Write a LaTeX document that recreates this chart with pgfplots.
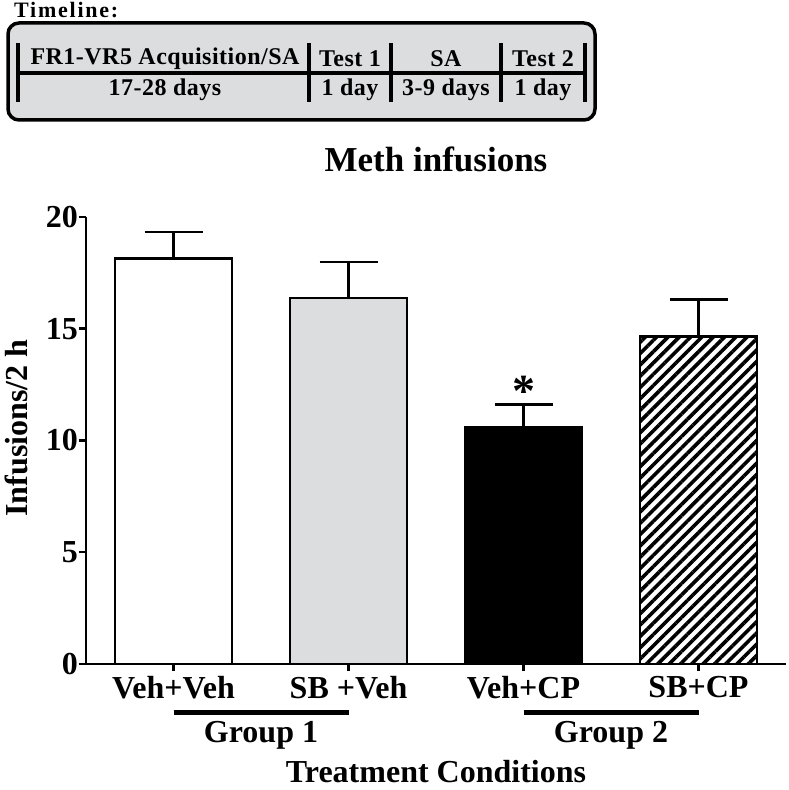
\documentclass[border=0pt]{standalone}
\usepackage{fontspec}
\setmainfont{Liberation Serif}
\newfontfamily\spacedfont[LetterSpace=8]{Liberation Serif}
\newfontfamily\boxfont[LetterSpace=2]{Liberation Serif}
\usepackage{pgfplots}
\pgfplotsset{compat=1.18}
\usetikzlibrary{patterns.meta}
\definecolor{lgray}{RGB}{220,221,222}
\begin{document}
\begin{tikzpicture}[x=1pt,y=1pt]
\path[use as bounding box] (0,0) rectangle (788,790);
% timeline box
\draw[line width=3.5pt, fill=lgray, rounded corners=11pt] (8,670) rectangle (595,767);
\draw[line width=3.5pt] (18,717) -- (585,717);
\foreach \x in {18,309,391,501,585} \draw[line width=3.5pt] (\x,688) -- (\x,747);
\begin{scope}[every node/.style={font=\boxfont\fontsize{24}{26}\selectfont\bfseries, inner sep=0pt}]
\node at (165,731) {FR1-VR5 Acquisition/SA};
\node at (165,700) {17-28 days};
\node at (350,731) {Test 1};
\node at (350,700) {1 day};
\node at (446,731) {SA};
\node at (446,700) {3-9 days};
\node at (543,731) {Test 2};
\node at (543,700) {1 day};
\end{scope}
\node[anchor=west, inner sep=0pt, font=\spacedfont\fontsize{22}{24}\selectfont\bfseries] at (14,780) {Timeline:};
\begin{axis}[
  at={(86pt,126pt)}, anchor=south west,
  scale only axis, width=700pt, height=447pt,
  xmin=-0.5, xmax=3.5, ymin=0, ymax=20,
  axis x line*=bottom, axis y line*=left,
  axis line style={line width=2.5pt},
  tick align=outside, major tick length=7pt,
  tick style={line width=2.5pt, black},
  xtick={0,1,2,3},
  xticklabels={Veh+Veh, SB +Veh, Veh+CP, SB+CP},
  ytick={0,5,10,15,20},
  /pgf/number format/assume math mode=true,
  tick label style={font=\fontsize{32}{34}\selectfont\bfseries},
  yticklabel style={inner sep=1pt},
  xticklabel style={inner sep=5pt},
  title={Meth infusions},
  title style={font=\fontsize{35}{38}\selectfont\bfseries, at={(axis description cs:0.5,1.0)}, anchor=center, yshift=52pt},
  ylabel={Infusions/2 h},
  ylabel style={font=\fontsize{32}{34}\selectfont\bfseries, at={(axis description cs:-0.099,0.528)}, anchor=center},
  xlabel={Treatment Conditions},
  xlabel style={font=\fontsize{32}{34}\selectfont\bfseries, at={(axis cs:1.5,-4.8)}, anchor=center},
  clip=false,
  bar width=117pt,
  error bars/y dir=plus, error bars/y explicit,
  error bars/error mark=|,
  error bars/error bar style={line width=2.5pt, black},
  error bars/error mark options={line width=2.5pt, mark size=29pt, black},
]
\addplot[ybar, bar shift=0pt, draw=black, line width=2.5pt, fill=white]
  coordinates {(0,18.15) +- (0,1.18)};
\addplot[ybar, bar shift=0pt, draw=black, line width=2.5pt, fill=lgray]
  coordinates {(1,16.38) +- (0,1.61)};
\addplot[ybar, bar shift=0pt, draw=black, line width=2.5pt, fill=black]
  coordinates {(2,10.6) +- (0,1.0)};
\addplot[ybar, bar shift=0pt, draw=black, line width=2.5pt, pattern={Lines[angle=45,distance=8pt,line width=3.6pt]}, pattern color=black]
  coordinates {(3,14.65) +- (0,1.65)};
\node[font=\fontsize{46}{46}\selectfont\bfseries, inner sep=0pt] at (axis cs:2,12.2) {*};
\draw[line width=5pt] (axis cs:0,-2.19) -- (axis cs:1,-2.19);
\draw[line width=5pt] (axis cs:2,-2.19) -- (axis cs:3,-2.19);
\node[font=\fontsize{32}{34}\selectfont\bfseries] at (axis cs:0.5,-3.2) {Group 1};
\node[font=\fontsize{32}{34}\selectfont\bfseries] at (axis cs:2.5,-3.2) {Group 2};
\end{axis}
\end{tikzpicture}
\end{document}
